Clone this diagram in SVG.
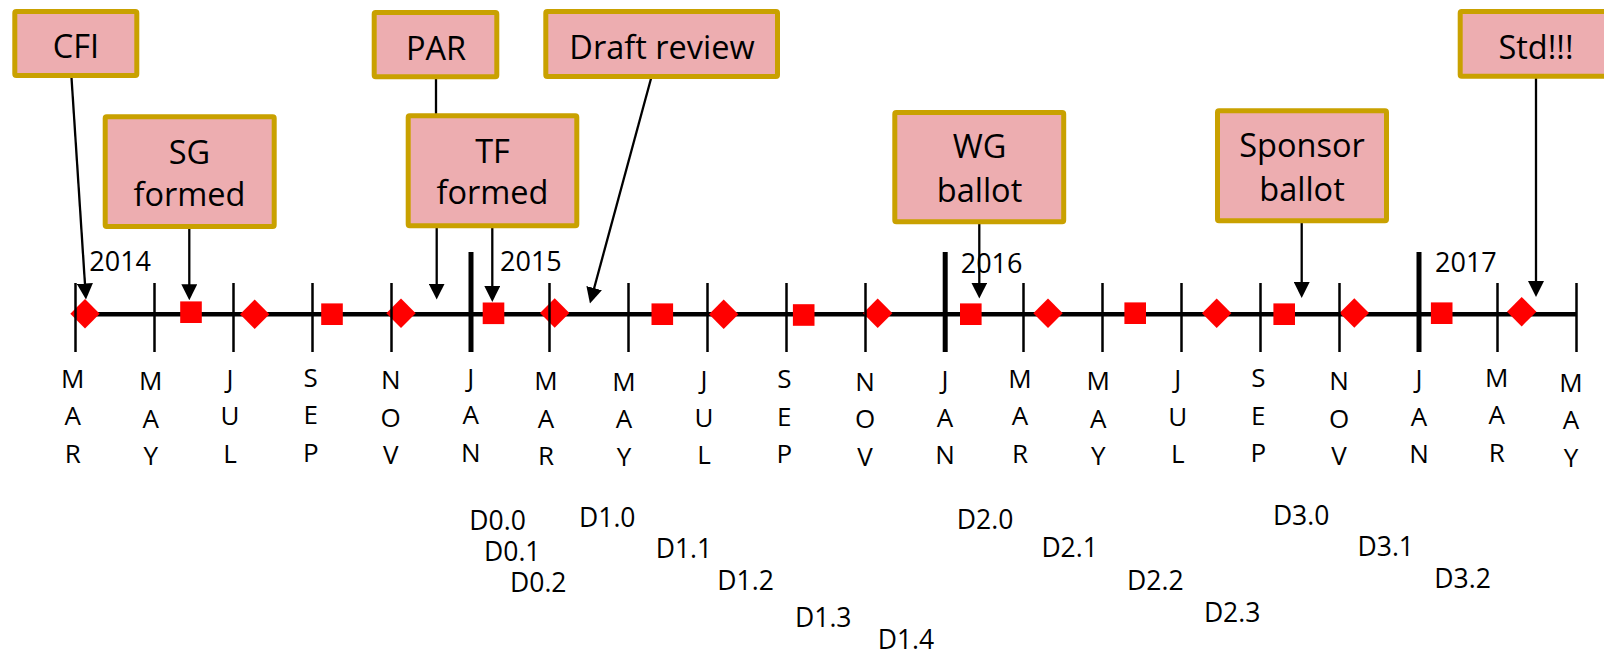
<svg xmlns="http://www.w3.org/2000/svg" width="1604" height="656" viewBox="0 0 1604 656">
  <style>
    .box{fill:#EDADB0;stroke:#C9A100;stroke-width:5}
    .bt{font-family:"Open Sans","Liberation Sans",sans-serif;font-size:32.5px;fill:#000;text-anchor:middle}
    .yr{font-family:"Open Sans","Liberation Sans",sans-serif;font-size:27px;fill:#000}
    .mo{font-family:"Open Sans","Liberation Sans",sans-serif;font-size:26px;fill:#000;text-anchor:middle}
    .dl{font-family:"Open Sans","Liberation Sans",sans-serif;font-size:26.5px;fill:#000}
    .conn{stroke:#000;stroke-width:2.3;fill:none;marker-end:url(#ah)}
    .plain{stroke:#000;stroke-width:2.3;fill:none}
    .tick{stroke:#000;stroke-width:2.5}
    .ytick{stroke:#000;stroke-width:5}
    .mk{fill:#FF0000}
  </style>
  <defs>
    <marker id="ah" markerUnits="userSpaceOnUse" markerWidth="16" markerHeight="16" viewBox="0 0 15 15" refX="11" refY="7.5" orient="auto">
      <path d="M0,0 L15,7.5 L0,15 Z" fill="#000"/>
    </marker>
    <path id="dia" d="M0,-14.7 L14.7,0 L0,14.7 L-14.7,0 Z"/>
    <rect id="sq" x="-10.8" y="-10.8" width="21.6" height="21.6"/>
  </defs>

  <!-- timeline axis -->
  <g id="axis">
    <line x1="75.5" y1="314.3" x2="1576.5" y2="314.3" stroke="#000" stroke-width="4.5"/>
  </g>

  <!-- markers -->
  <g id="markers" class="mk">
    <use href="#dia" x="85" y="313.7"/>
    <use href="#sq" x="191" y="312.2"/>
    <use href="#dia" x="254.7" y="314.3"/>
    <use href="#sq" x="332" y="314.2"/>
    <use href="#dia" x="401" y="313.3"/>
    <use href="#sq" x="493.5" y="313.3"/>
    <use href="#dia" x="554.7" y="313"/>
    <use href="#sq" x="662.3" y="314.2"/>
    <use href="#dia" x="723.7" y="314.3"/>
    <use href="#sq" x="803.7" y="315"/>
    <use href="#dia" x="877.7" y="313.3"/>
    <use href="#sq" x="970.8" y="314.2"/>
    <use href="#dia" x="1048" y="313.3"/>
    <use href="#sq" x="1135.2" y="313.2"/>
    <use href="#dia" x="1216.7" y="313.3"/>
    <use href="#sq" x="1284.2" y="314.2"/>
    <use href="#dia" x="1354.3" y="313"/>
    <use href="#sq" x="1441.7" y="313.2"/>
    <use href="#dia" x="1521.7" y="311.7"/>
  </g>

  <!-- ticks -->
  <g id="ticks">
    <line class="tick" x1="75.5" y1="283" x2="75.5" y2="352"/>
    <line class="tick" x1="154.5" y1="283" x2="154.5" y2="352"/>
    <line class="tick" x1="233.5" y1="283" x2="233.5" y2="352"/>
    <line class="tick" x1="312.5" y1="283" x2="312.5" y2="352"/>
    <line class="tick" x1="391.5" y1="283" x2="391.5" y2="352"/>
    <line class="ytick" x1="471" y1="252" x2="471" y2="352"/>
    <line class="tick" x1="549.5" y1="283" x2="549.5" y2="352"/>
    <line class="tick" x1="628.5" y1="283" x2="628.5" y2="352"/>
    <line class="tick" x1="707.5" y1="283" x2="707.5" y2="352"/>
    <line class="tick" x1="786.5" y1="283" x2="786.5" y2="352"/>
    <line class="tick" x1="865.5" y1="283" x2="865.5" y2="352"/>
    <line class="ytick" x1="945.2" y1="252" x2="945.2" y2="352"/>
    <line class="tick" x1="1023.5" y1="283" x2="1023.5" y2="352"/>
    <line class="tick" x1="1102.5" y1="283" x2="1102.5" y2="352"/>
    <line class="tick" x1="1181.5" y1="283" x2="1181.5" y2="352"/>
    <line class="tick" x1="1260.5" y1="283" x2="1260.5" y2="352"/>
    <line class="tick" x1="1339.5" y1="283" x2="1339.5" y2="352"/>
    <line class="ytick" x1="1419" y1="252" x2="1419" y2="352"/>
    <line class="tick" x1="1497.5" y1="283" x2="1497.5" y2="352"/>
    <line class="tick" x1="1576.5" y1="283" x2="1576.5" y2="352"/>
  </g>

  <!-- year labels -->
  <g id="years">
    <text class="yr" x="89.3" y="270.7">2014</text>
    <text class="yr" x="500" y="270.7">2015</text>
    <text class="yr" x="960.7" y="272.7">2016</text>
    <text class="yr" x="1435" y="271.7">2017</text>
  </g>

  <!-- connectors -->
  <g id="connectors">
    <line class="conn" x1="71" y1="70" x2="85.7" y2="295.3"/>
    <line class="conn" x1="189.3" y1="226" x2="189.3" y2="296"/>
    <line class="plain" x1="436" y1="76" x2="436" y2="120"/>
    <line class="conn" x1="436.7" y1="120" x2="436.7" y2="295.3"/>
    <line class="conn" x1="492.3" y1="226" x2="492.3" y2="297.7"/>
    <line class="conn" x1="651.7" y1="76" x2="591.06" y2="299.44"/>
    <line class="conn" x1="979.3" y1="222" x2="979.3" y2="294.3"/>
    <line class="conn" x1="1301.7" y1="221" x2="1301.7" y2="293.7"/>
    <line class="conn" x1="1536" y1="76" x2="1536" y2="292.7"/>
  </g>

  <!-- nodes -->
  <g id="cfi">
    <rect class="box" x="14.8" y="11.5" width="122" height="64" rx="1.5"/>
    <text class="bt" x="76" y="58">CFI</text>
  </g>
  <g id="sg-formed">
    <rect class="box" x="105.2" y="116.8" width="169" height="109.7" rx="1.5"/>
    <text class="bt" x="189.5" y="164">SG</text>
    <text class="bt" x="189.5" y="205.7">formed</text>
  </g>
  <g id="par">
    <rect class="box" x="374.2" y="12.5" width="122.6" height="64.3" rx="1.5"/>
    <text class="bt" x="436" y="60">PAR</text>
  </g>
  <g id="tf-formed">
    <rect class="box" x="408.2" y="115.8" width="168.6" height="110" rx="1.5"/>
    <text class="bt" x="492.5" y="162.7">TF</text>
    <text class="bt" x="492.5" y="204">formed</text>
  </g>
  <g id="draft-review">
    <rect class="box" x="545.8" y="11.5" width="231.7" height="65" rx="1.5"/>
    <text class="bt" x="662" y="59.3">Draft review</text>
  </g>
  <g id="wg-ballot">
    <rect class="box" x="894.8" y="112.5" width="168.9" height="109.3" rx="1.5"/>
    <text class="bt" x="979.5" y="158.3">WG</text>
    <text class="bt" x="979.5" y="201.7">ballot</text>
  </g>
  <g id="sponsor-ballot">
    <rect class="box" x="1217.5" y="110.8" width="169" height="110" rx="1.5"/>
    <text class="bt" x="1302" y="157.3">Sponsor</text>
    <text class="bt" x="1302" y="201">ballot</text>
  </g>
  <g id="std">
    <rect class="box" x="1460.2" y="11.5" width="152" height="64.7" rx="1.5"/>
    <text class="bt" x="1536" y="59">Std!!!</text>
  </g>

  <!-- month labels -->
  <g id="months" class="mo">
    <text x="72.7" y="387.7"><tspan x="72.7">M</tspan><tspan x="72.7" dy="37.5">A</tspan><tspan x="72.7" dy="37.5">R</tspan></text>
    <text x="150.7" y="390"><tspan x="150.7">M</tspan><tspan x="150.7" dy="37.5">A</tspan><tspan x="150.7" dy="37.5">Y</tspan></text>
    <text x="230" y="387.7"><tspan x="230">J</tspan><tspan x="230" dy="37.5">U</tspan><tspan x="230" dy="37.5">L</tspan></text>
    <text x="310.7" y="386.7"><tspan x="310.7">S</tspan><tspan x="310.7" dy="37.5">E</tspan><tspan x="310.7" dy="37.5">P</tspan></text>
    <text x="390.7" y="389"><tspan x="390.7">N</tspan><tspan x="390.7" dy="37.5">O</tspan><tspan x="390.7" dy="37.5">V</tspan></text>
    <text x="470.7" y="386.7"><tspan x="470.7">J</tspan><tspan x="470.7" dy="37.5">A</tspan><tspan x="470.7" dy="37.5">N</tspan></text>
    <text x="546" y="390"><tspan x="546">M</tspan><tspan x="546" dy="37.5">A</tspan><tspan x="546" dy="37.5">R</tspan></text>
    <text x="624" y="390.7"><tspan x="624">M</tspan><tspan x="624" dy="37.5">A</tspan><tspan x="624" dy="37.5">Y</tspan></text>
    <text x="704" y="389.3"><tspan x="704">J</tspan><tspan x="704" dy="37.5">U</tspan><tspan x="704" dy="37.5">L</tspan></text>
    <text x="784.3" y="388.3"><tspan x="784.3">S</tspan><tspan x="784.3" dy="37.5">E</tspan><tspan x="784.3" dy="37.5">P</tspan></text>
    <text x="865" y="390.7"><tspan x="865">N</tspan><tspan x="865" dy="37.5">O</tspan><tspan x="865" dy="37.5">V</tspan></text>
    <text x="945" y="389.3"><tspan x="945">J</tspan><tspan x="945" dy="37.5">A</tspan><tspan x="945" dy="37.5">N</tspan></text>
    <text x="1020" y="387.7"><tspan x="1020">M</tspan><tspan x="1020" dy="37.5">A</tspan><tspan x="1020" dy="37.5">R</tspan></text>
    <text x="1098.3" y="390"><tspan x="1098.3">M</tspan><tspan x="1098.3" dy="37.5">A</tspan><tspan x="1098.3" dy="37.5">Y</tspan></text>
    <text x="1177.7" y="388.3"><tspan x="1177.7">J</tspan><tspan x="1177.7" dy="37.5">U</tspan><tspan x="1177.7" dy="37.5">L</tspan></text>
    <text x="1258.3" y="387.3"><tspan x="1258.3">S</tspan><tspan x="1258.3" dy="37.5">E</tspan><tspan x="1258.3" dy="37.5">P</tspan></text>
    <text x="1339" y="390"><tspan x="1339">N</tspan><tspan x="1339" dy="37.5">O</tspan><tspan x="1339" dy="37.5">V</tspan></text>
    <text x="1419" y="388.3"><tspan x="1419">J</tspan><tspan x="1419" dy="37.5">A</tspan><tspan x="1419" dy="37.5">N</tspan></text>
    <text x="1496.7" y="386.7"><tspan x="1496.7">M</tspan><tspan x="1496.7" dy="37.5">A</tspan><tspan x="1496.7" dy="37.5">R</tspan></text>
    <text x="1571" y="391.7"><tspan x="1571">M</tspan><tspan x="1571" dy="37.5">A</tspan><tspan x="1571" dy="37.5">Y</tspan></text>
  </g>

  <!-- draft version labels -->
  <g id="drafts" class="dl">
    <text x="469.3" y="530">D0.0</text>
    <text x="484" y="561">D0.1</text>
    <text x="510" y="591.7">D0.2</text>
    <text x="579" y="526.7">D1.0</text>
    <text x="655.7" y="557.7">D1.1</text>
    <text x="717.3" y="590">D1.2</text>
    <text x="795" y="626.7">D1.3</text>
    <text x="877.7" y="649">D1.4</text>
    <text x="956.8" y="529">D2.0</text>
    <text x="1041.4" y="556.7">D2.1</text>
    <text x="1127.1" y="590">D2.2</text>
    <text x="1203.9" y="622.3">D2.3</text>
    <text x="1272.9" y="525">D3.0</text>
    <text x="1357.5" y="555.7">D3.1</text>
    <text x="1434.3" y="588.3">D3.2</text>
  </g>
</svg>
